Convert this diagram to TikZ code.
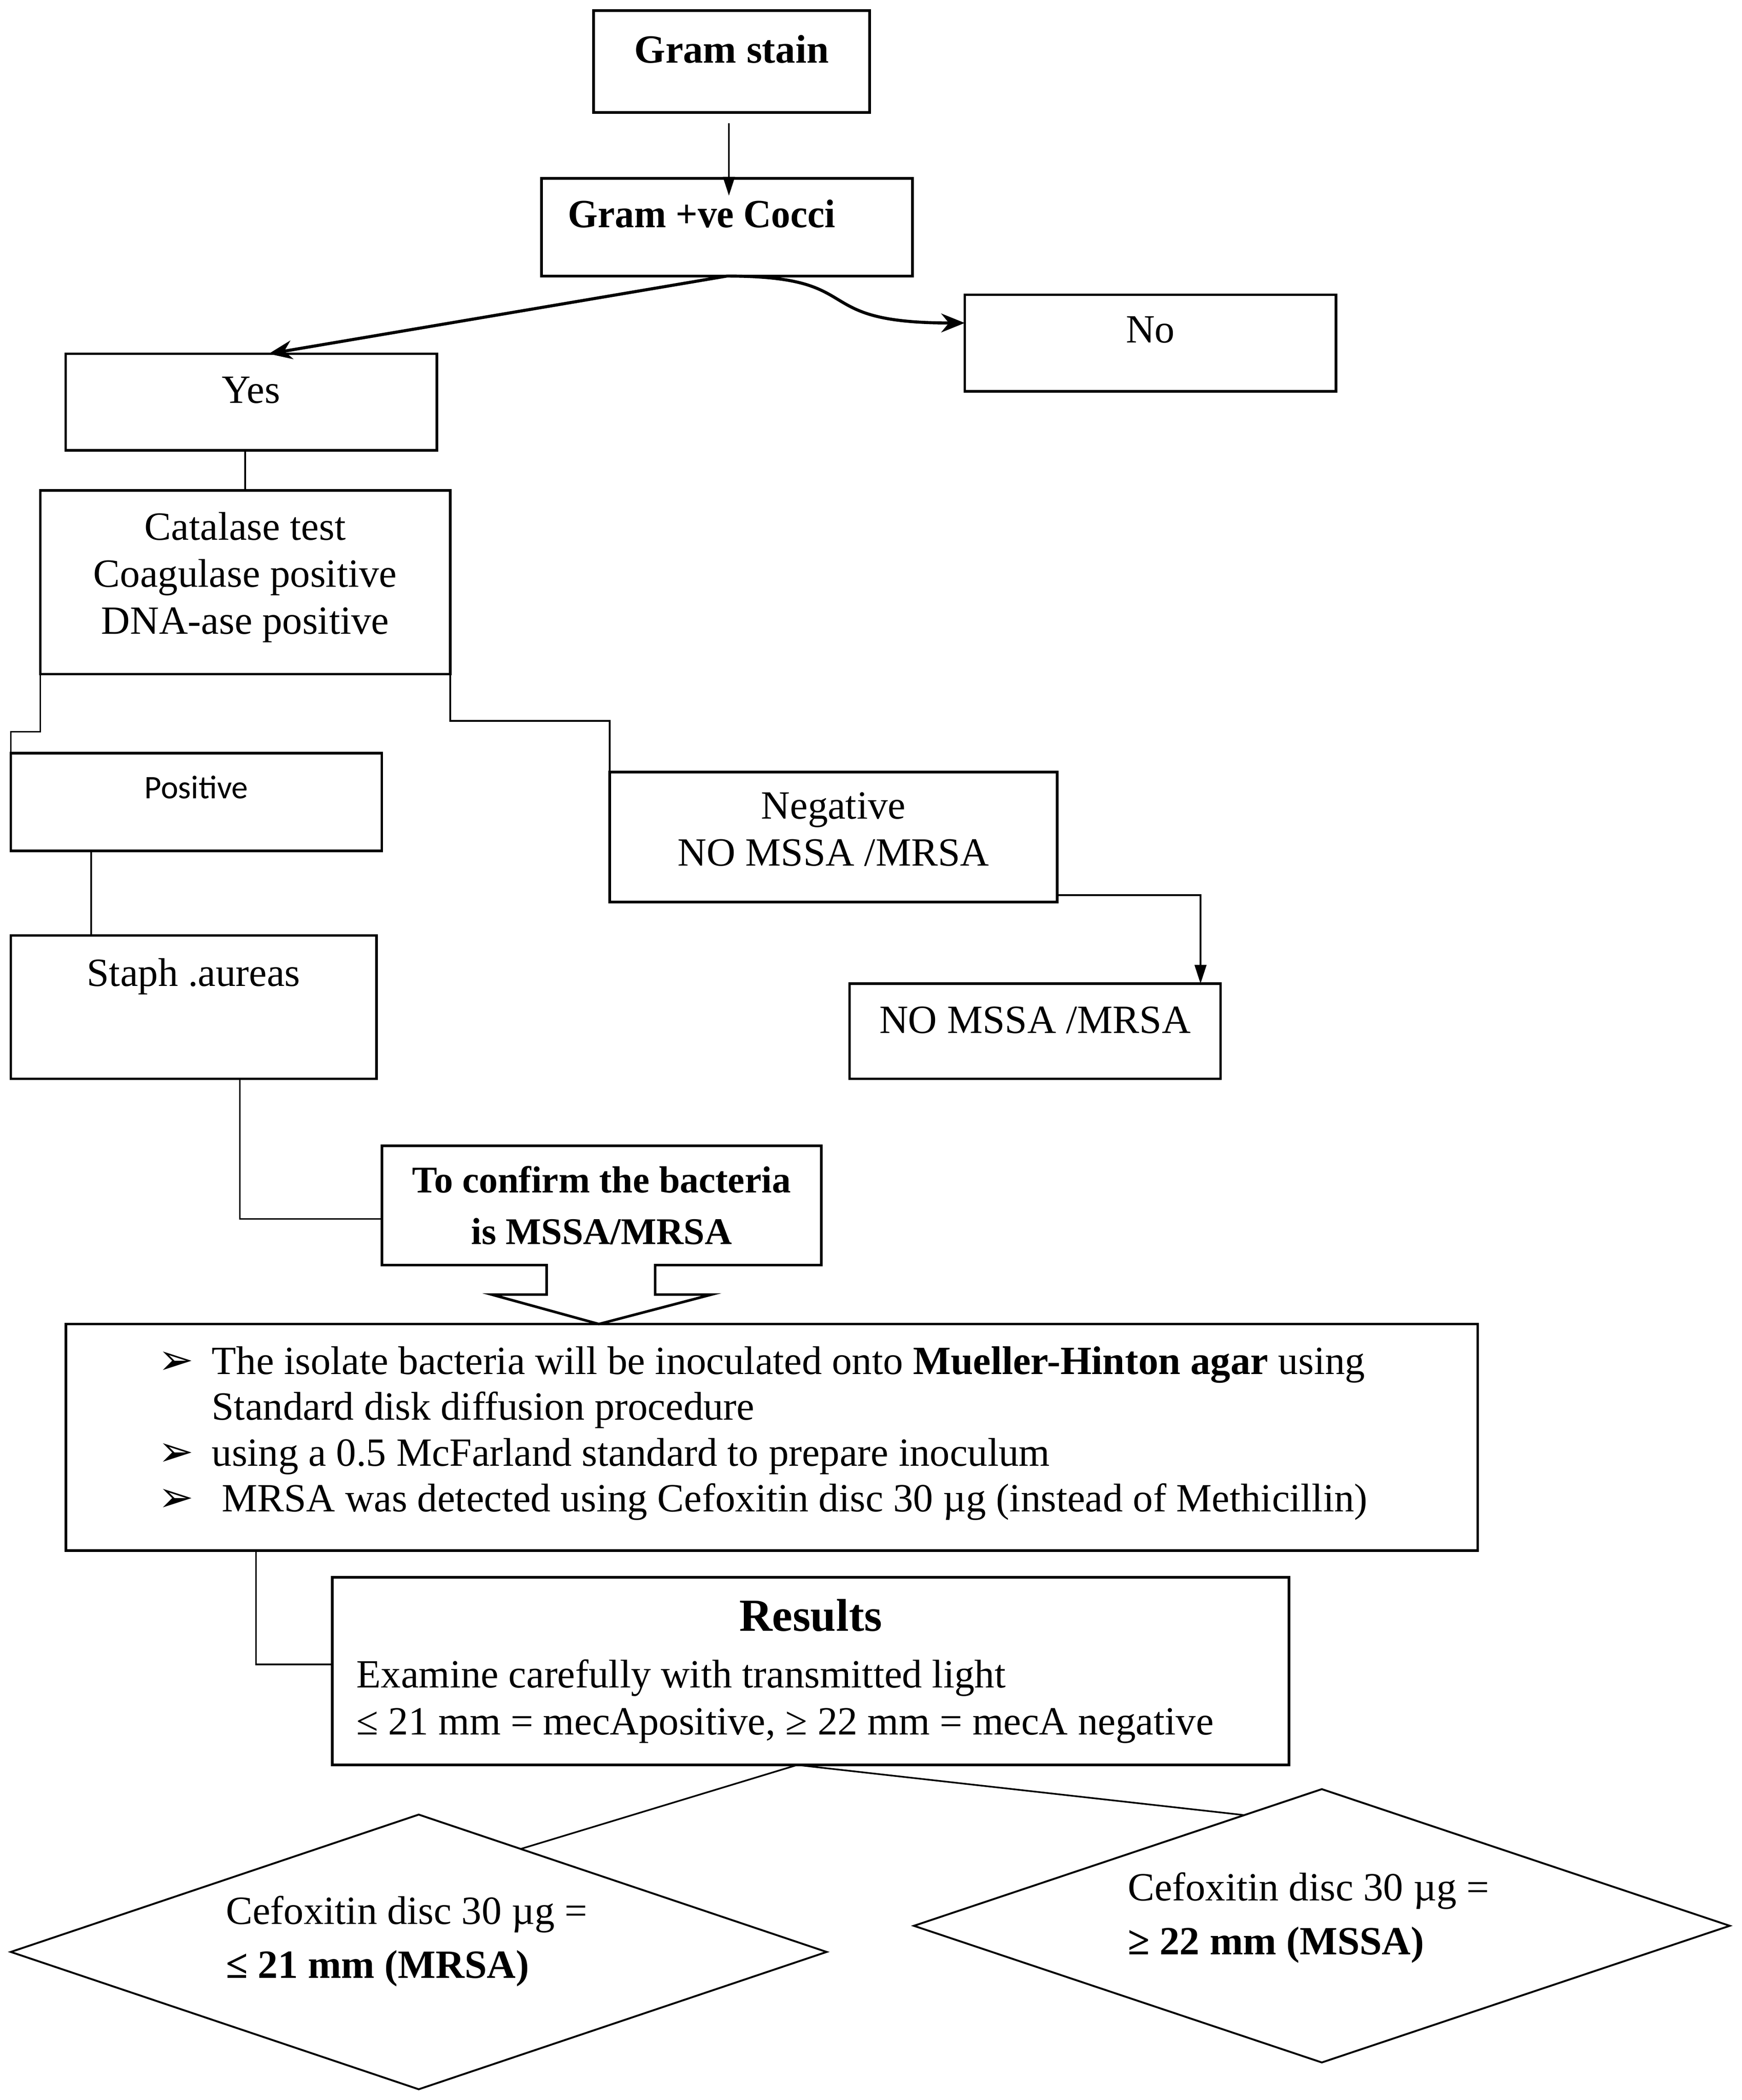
\documentclass[tikz,border=0pt]{standalone}
\usepackage{fontspec}
\usepackage{graphicx}
\setmainfont{Liberation Serif}
\newfontfamily\calibri{Carlito}
\newfontfamily\dejavu{DejaVu Sans}
\usetikzlibrary{arrows.meta, calc, shapes.geometric}
\setlength{\parindent}{0pt}

\newcommand{\bul}{\makebox[0.8cm][l]{\dejavu\fontsize{18}{18}\selectfont ➢}}
\newcommand{\natsp}{\spaceskip=0pt\xspaceskip=0pt\relax}
\newcommand{\lines}[2]{\raisebox{#1}[\height][\depth]{\begin{tabular}{@{}c@{}}#2\end{tabular}}}

\tikzset{
  box/.style={draw, line width=1.1pt, inner sep=0pt, outer sep=0pt,
    text height=12pt, text depth=#1, font=\fontsize{17}{20}\selectfont},
  box/.default=11pt,
  tallbox/.style={draw, line width=1.1pt, inner sep=0pt, outer sep=0pt,
    font=\fontsize{17}{20}\selectfont},
  dia/.style={draw, diamond, line width=0.8pt, inner sep=0pt, outer sep=0pt},
  dtext/.style={align=left, inner sep=0pt, font=\fontsize{17}{23}\selectfont},
  conn/.style={line width=0.7pt},
  bendarrow/.style={line width=1.3pt, -{Stealth[length=10pt, width=8pt]}},
  tip/.style={-{Triangle[length=8pt, width=5pt]}},
}

\begin{document}
\begin{tikzpicture}[x=0.02cm, y=-0.02cm]

\fill[white] (0,0) rectangle (1300,1567);
\useasboundingbox (0,0) rectangle (1300,1567);

% boxes
\node[box, minimum width=4.12cm, minimum height=1.52cm] (gram) at (546,46) {\textbf{Gram stain}};
\node[box=11.6pt, minimum width=5.54cm, minimum height=1.46cm, text width=4.74cm, align=left] (cocci) at (542.5,169.5) {\natsp\scalebox{0.96}[1]{\textbf{Gram +ve Cocci}}};
\node[box=12.2pt, minimum width=5.54cm, minimum height=1.44cm] (no) at (858.5,256) {No};
\node[box, minimum width=5.54cm, minimum height=1.44cm] (yes) at (187.5,300) {Yes};
\node[tallbox, minimum width=6.12cm, minimum height=2.74cm] (cat) at (183,434.5) {\lines{2pt}{Catalase test\\Coagulase positive\\DNA-ase positive}};
\node[box=15pt, font=\calibri\fontsize{14}{17}\selectfont, minimum width=5.54cm, minimum height=1.46cm] (pos) at (146.5,598.5) {Positive};
\node[tallbox, minimum width=6.68cm, minimum height=1.94cm] (neg) at (622,624.5) {\lines{1.7pt}{Negative\\NO MSSA /MRSA}};
\node[box=29.8pt, minimum width=5.46cm, minimum height=2.14cm] (staph) at (144.5,751.5) {Staph .aureas};
\node[box=10.5pt, minimum width=5.54cm, minimum height=1.42cm] (nomssa) at (772.5,769.5) {NO MSSA /MRSA};

% box with the block arrow under it
\node[align=center, inner sep=0pt, outer sep=0pt, minimum width=6.56cm, minimum height=1.78cm, font=\fontsize{16}{22}\selectfont\bfseries] (confirm) at (449,899.5) {To confirm the bacteria\\is MSSA/MRSA};
\draw[line width=1.1pt] (confirm.south west) -- (confirm.north west) -- (confirm.north east) -- (confirm.south east)
    -- ++(-124,0) -- ++(0,22) -- ++(42,0) -- ++(-84,22) -- ++(-80,-22) -- ++(41,0) -- ++(0,-22) -- cycle;

\node[draw, line width=1.1pt, inner sep=0pt, outer sep=0pt, minimum width=21.08cm, minimum height=3.38cm, text width=18.32cm, align=left, font=\fontsize{17}{19.5}\selectfont] (steps) at (576,1072.5) {\natsp
\mbox{\bul The isolate bacteria will be inoculated onto \textbf{Mueller-Hinton agar} using}\\
\mbox{\hspace*{0.8cm}Standard disk diffusion procedure}\\
\mbox{\bul using a 0.5 McFarland standard to prepare inoculum}\\
\mbox{\bul\ MRSA was detected using Cefoxitin disc 30 µg (instead of Methicillin)\rule[-7pt]{0pt}{0pt}}};

\node[draw, line width=1.1pt, inner sep=0pt, outer sep=0pt, minimum width=14.28cm, minimum height=2.8cm, text width=13.56cm, align=left, font=\fontsize{17}{20}\selectfont] (results) at (605,1247) {\natsp
{\centering\fontsize{19.5}{24}\selectfont\bfseries Results\par}\vskip 4pt
Examine carefully with transmitted light\\
≤ 21 mm = mecApositive, ≥ 22 mm = mecA negative};

% diamonds
\node[dia, minimum width=12.18cm, minimum height=4.1cm] (mrsa) at (312.5,1456.5) {};
\node[dtext] (mrsa-t) at ($(mrsa)+(-9,-8)$) {Cefoxitin disc 30 µg =\\\textbf{≤ 21 mm (MRSA)}};
\node[dia, minimum width=12.18cm, minimum height=4.08cm] (mssa) at (986.5,1437) {};
\node[dtext] (mssa-t) at ($(mssa)+(-10,-6)$) {Cefoxitin disc 30 µg =\\\textbf{≥ 22 mm (MSSA)}};

% connectors
\draw[conn, tip] ($(gram.south)+(-2,8)$) -- ($(cocci.north)+(1.5,13)$);
\draw[bendarrow] (cocci.south) -- ($(yes.north)+(13,0)$);
\draw[bendarrow] (cocci.south) .. controls +(108,0) and +(-120,0) .. ($(no.west)+(0,-15)$);
\draw[conn] (cat.north) -- (cat.north |- yes.south);
\draw[conn] (cat.south west) -- ++(0,43) -| (pos.north west);
\draw[conn] (cat.south east) -- ++(0,35) -| (neg.north west);
\draw[conn, tip] ($(neg.north east)+(0,26)$) -- ($(neg.south east)+(0,-5)$) -| ($(nomssa.north east)+(-15,0)$);
\draw[conn] ($(pos.south west)+(60,0)$) -- ($(staph.north west)+(60,0)$);
\draw[conn] ($(staph.south)+(34.5,0)$) |- ($(confirm.west)+(0,10)$);
\draw[conn] ($(steps.south west)+(142,0)$) |- ($(results.west)+(0,-5)$);
\draw[conn] ($(results.south)+(-10,0)$) -- ($(mrsa.north)!.25!(mrsa.east)$);
\draw[conn] ($(results.south)+(-10,0)$) -- ($(mssa.north)!.19!(mssa.west)$);

\end{tikzpicture}
\end{document}
